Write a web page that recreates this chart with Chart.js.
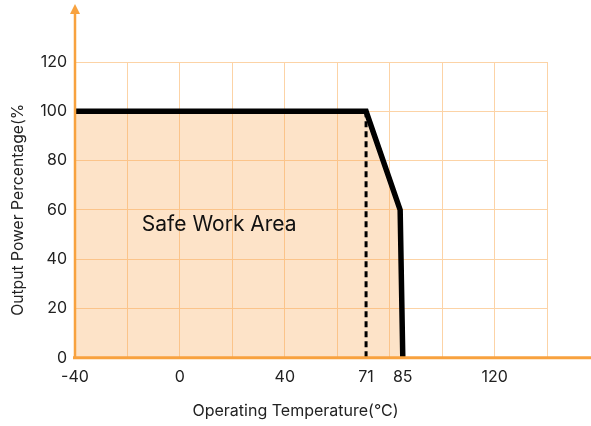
<!DOCTYPE html>
<html>
<head>
<meta charset="utf-8">
<script src="https://cdn.jsdelivr.net/npm/chart.js@4.4.1/dist/chart.umd.min.js"></script>
<style>
  html, body { margin: 0; padding: 0; background: #ffffff; }
  #wrap { width: 591px; height: 426px; position: relative; }
</style>
</head>
<body>
<div id="wrap"><canvas id="c" width="591" height="426"></canvas></div>
<script>
// ---- data ----
const curveX = [-40, 71, 84, 85];
const curveY = [100, 100, 60, 0];
const dashX = [71, 71];
const dashY = [100, 0];
const xGridValues = [-40, -20, 0, 20, 40, 60, 80, 100, 120, 140];
const xTickLabels = [-40, 0, 40, 71, 85, 120];
const yTickValues = [0, 20, 40, 60, 80, 100, 120];
const areaLabel = 'Safe Work Area';
const areaLabelPos = [15, 54];
const xTitle = 'Operating Temperature(°C)';
const yTitle = 'Output Power Percentage(%';

const AXIS = '#f8a23f';
const GRID = '#fcd3a6';
const FONT = 'Inter, "Noto Sans", sans-serif';

const toPts = (xs, ys) => xs.map((x, i) => ({ x: x, y: ys[i] }));

const axesPlugin = {
  id: 'axesArrows',
  afterDraw(chart) {
    const ctx = chart.ctx;
    const xs = chart.scales.x, ys = chart.scales.y;
    const x0 = xs.getPixelForValue(-40);
    const y0 = ys.getPixelForValue(0);
    ctx.save();
    ctx.strokeStyle = AXIS;
    ctx.fillStyle = AXIS;
    // x axis
    ctx.lineWidth = 3;
    ctx.beginPath();
    ctx.moveTo(x0 - 2, y0);
    ctx.lineTo(chart.width, y0);
    ctx.stroke();
    // y axis
    ctx.lineWidth = 2.5;
    ctx.beginPath();
    ctx.moveTo(x0, y0);
    ctx.lineTo(x0, 12);
    ctx.stroke();
    ctx.beginPath();
    ctx.moveTo(x0, 4);
    ctx.lineTo(x0 - 5, 14);
    ctx.lineTo(x0 + 5, 14);
    ctx.closePath();
    ctx.fill();
    // area label
    ctx.fillStyle = '#111';
    ctx.font = '21px ' + FONT;
    ctx.textAlign = 'center';
    ctx.textBaseline = 'middle';
    ctx.fillText(areaLabel, xs.getPixelForValue(areaLabelPos[0]), ys.getPixelForValue(areaLabelPos[1]));
    // x title
    ctx.fillStyle = '#222';
    ctx.font = '16px ' + FONT;
    ctx.fillText(xTitle, chart.width / 2, 411);
    ctx.restore();
  }
};

new Chart(document.getElementById('c'), {
  type: 'line',
  data: {
    datasets: [
      {
        data: toPts(curveX, curveY),
        borderColor: '#000',
        borderWidth: 5.5,
        backgroundColor: 'rgba(248,162,72,0.3)',
        fill: 'origin',
        pointRadius: 0,
        tension: 0,
        borderJoinStyle: 'miter',
        order: 1
      },
      {
        data: toPts(dashX, dashY),
        borderColor: '#000',
        borderWidth: 3,
        borderDash: [6, 4],
        fill: false,
        pointRadius: 0,
        order: 0
      }
    ]
  },
  options: {
    responsive: false,
    animation: false,
    devicePixelRatio: 1,
    layout: { padding: { top: 62, right: 44, bottom: 29, left: 0 } },
    plugins: { legend: { display: false }, tooltip: { enabled: false } },
    scales: {
      x: {
        type: 'linear',
        min: -40,
        max: 140,
        border: { display: false },
        afterBuildTicks(scale) {
          const vals = Array.from(new Set(xGridValues.concat(xTickLabels))).sort((a, b) => a - b);
          scale.ticks = vals.map(v => ({ value: v }));
        },
        grid: {
          drawTicks: false,
          lineWidth: 1,
          color: c => (c.tick && xGridValues.includes(c.tick.value)) ? GRID : 'rgba(0,0,0,0)'
        },
        ticks: {
          autoSkip: false,
          maxRotation: 0,
          padding: 10,
          color: '#222',
          font: { family: FONT, size: 16 },
          callback: v => xTickLabels.includes(v) ? String(v) : ''
        }
      },
      y: {
        type: 'linear',
        min: 0,
        max: 120,
        border: { display: false },
        afterBuildTicks(scale) {
          scale.ticks = yTickValues.map(v => ({ value: v }));
        },
        afterFit(scale) { scale.width = 75; },
        grid: { drawTicks: false, color: GRID, lineWidth: 1 },
        ticks: {
          padding: 8,
          color: '#222',
          font: { family: FONT, size: 16 }
        },
        title: {
          display: true,
          text: yTitle,
          color: '#222',
          font: { family: FONT, size: 15.7 },
          padding: { top: 9, bottom: 0 }
        }
      }
    }
  },
  plugins: [axesPlugin]
});
</script>
</body>
</html>
